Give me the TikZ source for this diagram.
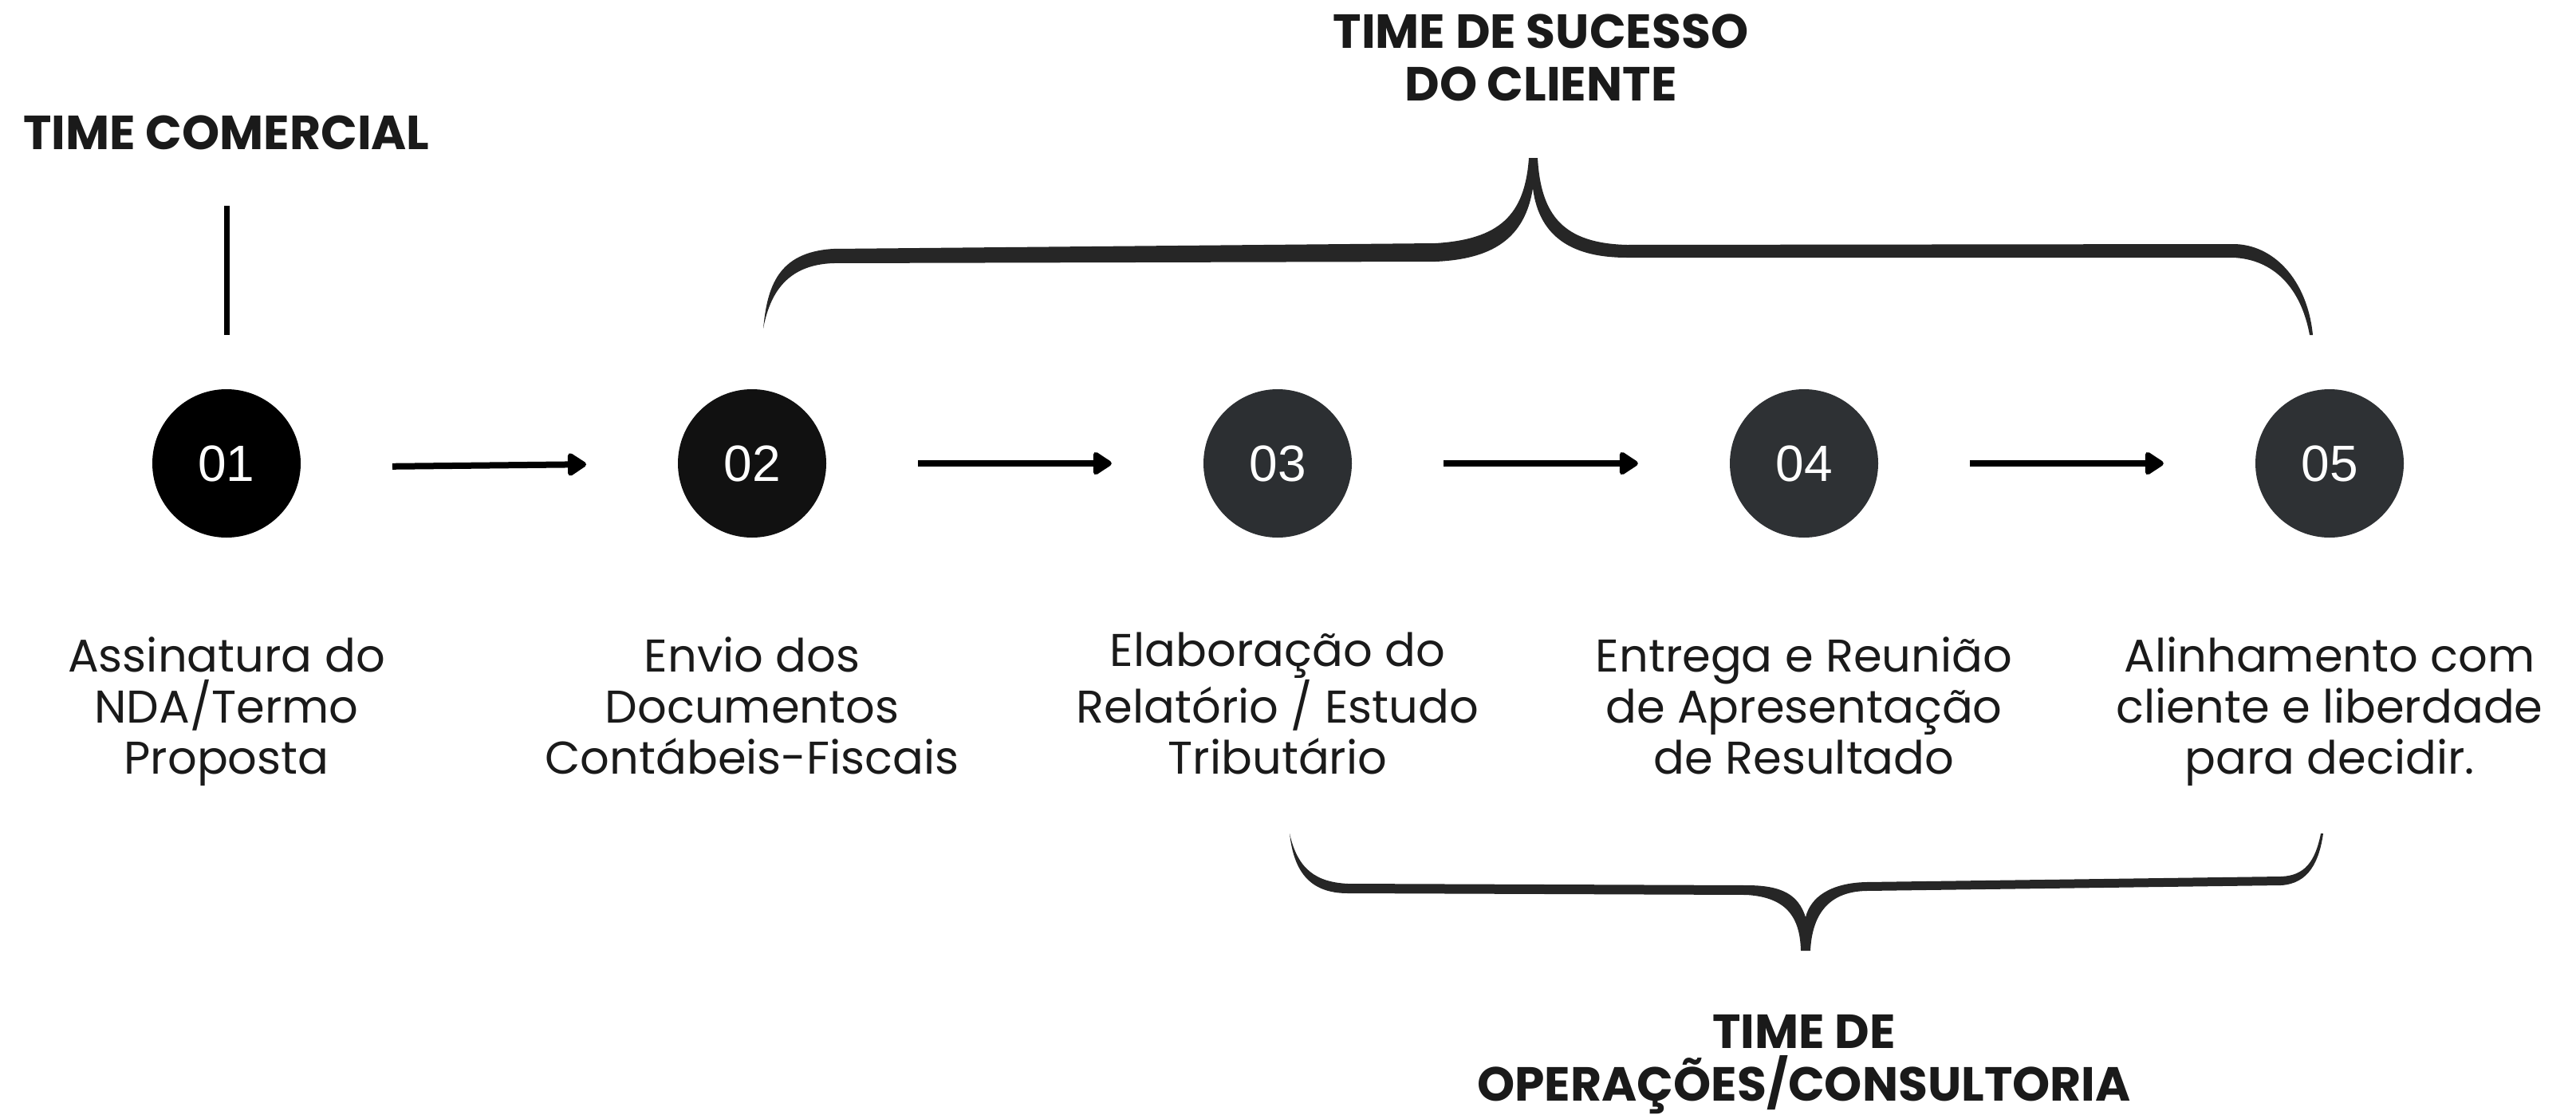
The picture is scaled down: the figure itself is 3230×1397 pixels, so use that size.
\documentclass[tikz,border=0pt]{standalone}
\usepackage{fontspec}
\setmainfont{Poppins}
\newfontfamily\headfont{Poppins}
\newfontfamily\numfont{Liberation Sans}
\usetikzlibrary{arrows.meta}
\definecolor{ink}{HTML}{1A1A1A}
\definecolor{brace}{HTML}{262626}
\definecolor{cA}{HTML}{000000}
\definecolor{cB}{HTML}{111111}
\definecolor{cC}{HTML}{2C2F32}
\definecolor{cD}{HTML}{2E3134}
\begin{document}
\begin{tikzpicture}[x=1pt,y=-1pt,
  stepcircle/.style={circle,minimum size=186pt,inner sep=0pt,text=white,
    font=\numfont\fontsize{64}{70}\selectfont},
  steplabel/.style={align=center,anchor=base,text=ink,
    font=\fontsize{57.5}{64}\selectfont},
  heading/.style={align=center,anchor=base,text=ink,
    font=\headfont\bfseries\fontsize{60}{66}\selectfont},
  flowarrow/.style={line width=8pt,draw=black,
    -{Triangle[length=26pt,width=32pt,round]},
    shorten <=115pt,shorten >=115pt},
  bracefill/.style={fill=brace,draw=none}]
\useasboundingbox (0,0) rectangle (3230,1397);

% circles
\node[stepcircle,fill=cA] (c1) at (284,581) {01};
\node[stepcircle,fill=cB] (c2) at (943,581) {02};
\node[stepcircle,fill=cC] (c3) at (1602,581) {03};
\node[stepcircle,fill=cD] (c4) at (2262,581) {04};
\node[stepcircle,fill=cD] (c5) at (2921,581) {05};

% arrows
\draw[flowarrow,shorten <=208pt,shorten >=208pt] ([yshift=-6pt]c1.center) -- ([yshift=1pt]c2.center);
\draw[flowarrow] (c2) -- (c3);
\draw[flowarrow] (c3) -- (c4);
\draw[flowarrow] (c4) -- (c5);

% labels (anchor = baseline of last line)
\node[steplabel] (l1) at (284,970) {Assinatura do\\NDA/Termo\\Proposta};
\node[steplabel] (l2) at (943,970) {Envio dos\\Documentos\\Contábeis-Fiscais};
\node[steplabel] (l3) at (1602,970) {Elaboração do\\Relatório / Estudo\\Tributário};
\node[steplabel] (l4) at (2262,970) {Entrega e Reunião\\de Apresentação\\de Resultado};
\node[steplabel] (l5) at (2921,970) {Alinhamento com\\cliente e liberdade\\para decidir.};

% headings
\node[heading] (hc) at (284,187) {TIME COMERCIAL};
\node[heading] (hs) at (1932,126) {TIME DE SUCESSO\\DO CLIENTE};
\node[heading] (ho) at (2262,1380) {TIME DE\\OPERAÇÕES/CONSULTORIA};

% vertical line
\coordinate (vtop) at (284,258);
\coordinate (vbot) at (284,420);
\draw[line width=7pt,black] (vtop) -- (vbot);

% top brace
\path[bracefill] (957,412) .. controls (962,360) and (975,316) .. (1045,312)
  -- (1800,305) .. controls (1880,300) and (1912,270) .. (1917,198)
  -- (1928,198) .. controls (1932,270) and (1960,305) .. (2040,307)
  -- (2800,306) .. controls (2850,306) and (2893,350) .. (2900,420)
  -- (2896,420) .. controls (2885,360) and (2850,325) .. (2800,323)
  -- (2040,323) .. controls (1975,323) and (1930,300) .. (1922,236)
  .. controls (1912,300) and (1870,325) .. (1800,328)
  -- (1045,330) .. controls (985,332) and (965,370) .. (957,412) -- cycle;

% bottom brace
\path[bracefill] (1617,1045) .. controls (1622,1090) and (1640,1120) .. (1690,1120)
  -- (2190,1122) .. controls (2240,1125) and (2257,1150) .. (2258,1192)
  -- (2270,1192) .. controls (2272,1150) and (2290,1118) .. (2340,1117)
  -- (2860,1110) .. controls (2895,1108) and (2908,1080) .. (2913,1045)
  -- (2910,1045) .. controls (2903,1080) and (2890,1098) .. (2860,1099)
  -- (2340,1106) .. controls (2295,1107) and (2270,1125) .. (2264,1150)
  .. controls (2255,1122) and (2235,1110) .. (2190,1110)
  -- (1690,1108) .. controls (1650,1106) and (1627,1090) .. (1617,1045) -- cycle;
\end{tikzpicture}
\end{document}
